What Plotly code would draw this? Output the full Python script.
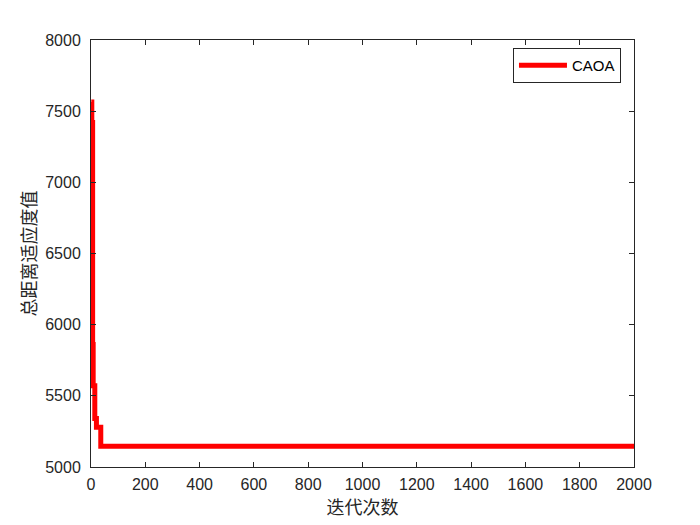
import plotly.graph_objects as go

# Convergence curve breakpoints (iteration, best total distance), held as steps
iterations = [1, 3, 6, 8, 14, 20, 36, 2000]
fitness = [7565, 7420, 5860, 5570, 5340, 5280, 5145, 5145]
series_name = "CAOA"
x_label = "迭代次数"
y_label = "总距离适应度值"
x_ticks = [0, 200, 400, 600, 800, 1000, 1200, 1400, 1600, 1800, 2000]
y_ticks = [5000, 5500, 6000, 6500, 7000, 7500, 8000]

fig = go.Figure()
fig.add_trace(go.Scatter(
    x=iterations, y=fitness, mode="lines", name=series_name,
    line=dict(color="#ff0000", width=5, shape="hv"),
))

axis_common = dict(
    showgrid=False, zeroline=False, showline=True, linecolor="#262626",
    linewidth=1, mirror="ticks", ticks="inside", ticklen=5,
    tickcolor="#262626",
    tickfont=dict(family="Liberation Sans, Arial", size=16, color="#262626"),
)

fig.update_layout(
    width=692, height=517,
    paper_bgcolor="white", plot_bgcolor="white",
    margin=dict(l=83, r=66, t=32, b=58, autoexpand=False),
    xaxis=dict(range=[0, 2000], tickvals=x_ticks, ticktext=[str(v) for v in x_ticks],
               ticklabelstandoff=3,
               title=dict(text=x_label, font=dict(family="Noto Sans CJK SC", size=18, color="#262626"), standoff=1),
               **axis_common),
    yaxis=dict(range=[5000, 8000], tickvals=y_ticks, ticktext=[str(v) for v in y_ticks],
               ticklabelstandoff=6,
               title=dict(text=y_label, font=dict(family="Noto Sans CJK SC", size=18, color="#262626"), standoff=3),
               **axis_common),
    legend=dict(x=0.976, y=0.940, xanchor="right", yanchor="middle",
                bgcolor="white", bordercolor="#262626", borderwidth=1,
                itemwidth=48,
                font=dict(family="Liberation Sans, Arial", size=15, color="#000000")),
    showlegend=True,
)

fig.write_html("out.html")
